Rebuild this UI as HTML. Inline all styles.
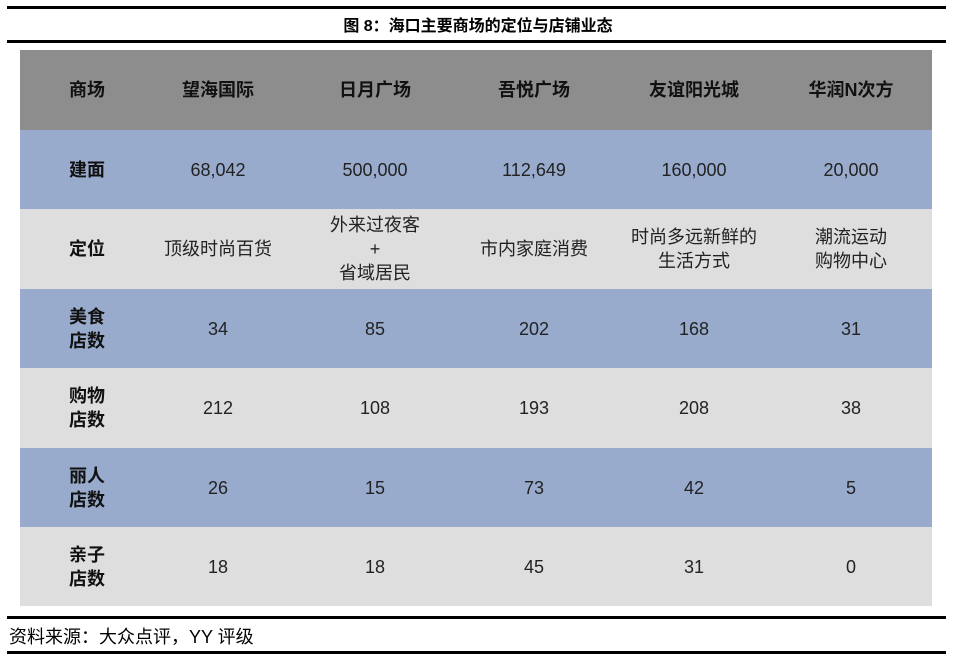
<!DOCTYPE html>
<html><head><meta charset="utf-8"><style>
body{margin:0;width:956px;height:662px;background:#fff;position:relative;font-family:"Liberation Sans","Noto Sans CJK SC",sans-serif;overflow:hidden}
.hl{position:absolute;left:7px;width:939px;background:#000}
.title{position:absolute;top:12px;left:0;width:956px;text-align:center;font-weight:bold;font-size:16px;color:#000}
.row{position:absolute;left:20px;width:912px}
.c{position:absolute;top:0;height:100%;display:flex;align-items:center;justify-content:center;text-align:center;font-size:18px;color:#222;line-height:24px;transform:translateX(-50%);white-space:nowrap}
.b{font-weight:bold;color:#111}
.foot{position:absolute;left:9px;top:623px;font-size:18px;color:#000}
</style></head><body>
<div class="hl" style="top:6px;height:3px"></div>
<div class="title">图 8：海口主要商场的定位与店铺业态</div>
<div class="hl" style="top:40px;height:3px"></div>

<div class="row" style="top:50px;height:80px;background:#8d8d8d">
<div class="c b" style="left:67px">商场</div><div class="c b" style="left:198px">望海国际</div><div class="c b" style="left:355px">日月广场</div><div class="c b" style="left:514px">吾悦广场</div><div class="c b" style="left:674px">友谊阳光城</div><div class="c b" style="left:831px">华润N次方</div></div>

<div class="row" style="top:130px;height:79px;background:#98abcd">
<div class="c b" style="left:67px">建面</div><div class="c" style="left:198px">68,042</div><div class="c" style="left:355px">500,000</div><div class="c" style="left:514px">112,649</div><div class="c" style="left:674px">160,000</div><div class="c" style="left:831px">20,000</div></div>

<div class="row" style="top:209px;height:80px;background:#dedede">
<div class="c b" style="left:67px">定位</div><div class="c" style="left:198px">顶级时尚百货</div><div class="c" style="left:355px">外来过夜客<br>+<br>省域居民</div><div class="c" style="left:514px">市内家庭消费</div><div class="c" style="left:674px">时尚多远新鲜的<br>生活方式</div><div class="c" style="left:831px">潮流运动<br>购物中心</div></div>

<div class="row" style="top:289px;height:79px;background:#98abcd">
<div class="c b" style="left:67px">美食<br>店数</div><div class="c" style="left:198px">34</div><div class="c" style="left:355px">85</div><div class="c" style="left:514px">202</div><div class="c" style="left:674px">168</div><div class="c" style="left:831px">31</div></div>

<div class="row" style="top:368px;height:80px;background:#dedede">
<div class="c b" style="left:67px">购物<br>店数</div><div class="c" style="left:198px">212</div><div class="c" style="left:355px">108</div><div class="c" style="left:514px">193</div><div class="c" style="left:674px">208</div><div class="c" style="left:831px">38</div></div>

<div class="row" style="top:448px;height:79px;background:#98abcd">
<div class="c b" style="left:67px">丽人<br>店数</div><div class="c" style="left:198px">26</div><div class="c" style="left:355px">15</div><div class="c" style="left:514px">73</div><div class="c" style="left:674px">42</div><div class="c" style="left:831px">5</div></div>

<div class="row" style="top:527px;height:79px;background:#dedede">
<div class="c b" style="left:67px">亲子<br>店数</div><div class="c" style="left:198px">18</div><div class="c" style="left:355px">18</div><div class="c" style="left:514px">45</div><div class="c" style="left:674px">31</div><div class="c" style="left:831px">0</div></div>

<div class="hl" style="top:616px;height:3px"></div>
<div class="foot">资料来源：大众点评，YY 评级</div>
<div class="hl" style="top:651px;height:3px"></div>
</body></html>
